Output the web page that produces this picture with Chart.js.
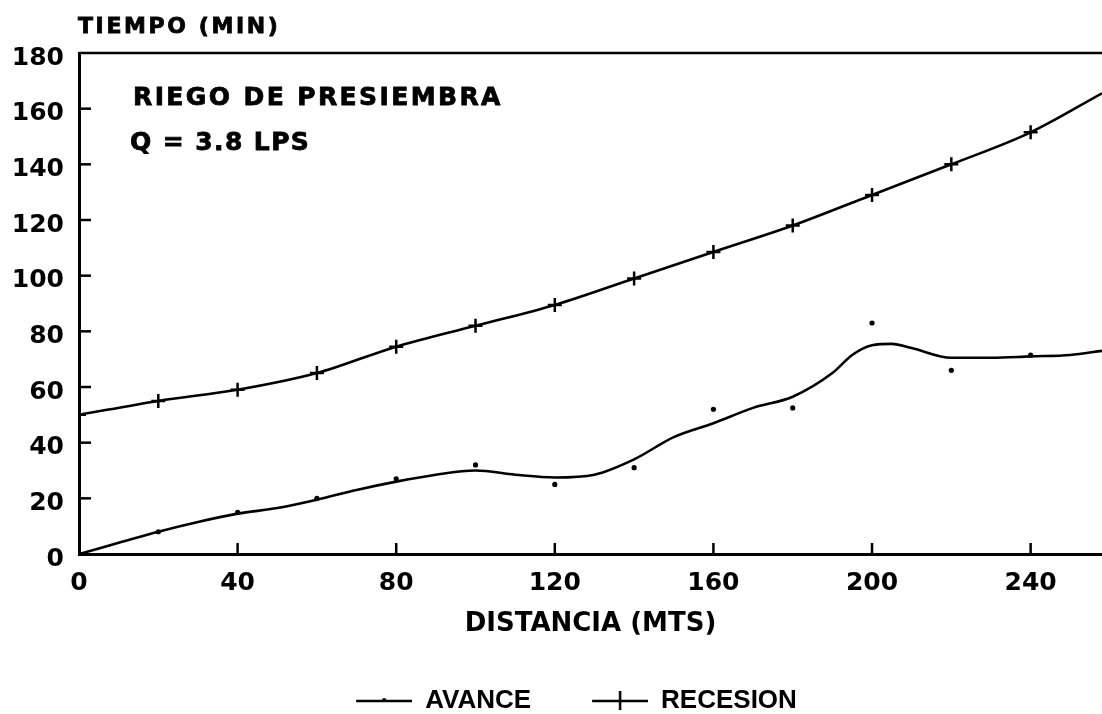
<!DOCTYPE html>
<html lang="es">
<head>
<meta charset="utf-8">
<title>Riego de presiembra - avance y recesión</title>
<script src="https://cdn.jsdelivr.net/npm/chart.js@4.4.1/dist/chart.umd.min.js"></script>
<style>
  html, body { margin: 0; padding: 0; background: #ffffff; }
  #grafico { display: block; }
</style>
</head>
<body>
<canvas id="grafico" width="1102" height="714"></canvas>
<script>
// Estaciones de medición a lo largo del surco (m)
const distancias = [0, 20, 40, 60, 80, 100, 120, 140, 160, 180, 200, 220, 240];
// Tiempo de avance observado en cada estación (min)
const avanceMedido = [0, 8, 15, 20, 27, 32, 25, 31, 52, 52.5, 83, 66, 71.5];
// Tiempo de recesión en cada estación (min)
const recesion = [50, 55, 59, 65, 74.5, 82, 89.5, 99, 108.5, 118, 129, 140, 151.5];
// Extremo del surco y su tiempo de recesión
const distanciaFinal = 258;
const recesionFinal = 165.5;

// Curva suavizada del avance
const distanciasAjuste = [0, 10, 20, 30, 40, 50, 60, 70, 80, 90, 100, 110, 120, 130,
  140, 150, 160, 170, 180, 190, 195, 200, 205, 210, 220, 230, 240, 250, 258];
const avanceAjuste = [0, 4, 8, 11.5, 14.5, 16.5, 19.5, 23, 26, 28.5, 30, 28.5, 27.5, 28.5,
  34, 42, 47, 52.5, 56.5, 65, 71.5, 75, 75.5, 74, 70.5, 70.5, 71, 71.5, 73];

// Divisiones de los ejes
const ticksY = [0, 20, 40, 60, 80, 100, 120, 140, 160, 180];
const ticksX = [0, 40, 80, 120, 160, 200, 240];

const NEGRO = '#000000';
const FUENTE = '"DejaVu Sans", "Liberation Sans", sans-serif';

// Símbolos de la leyenda: trazo con punto (avance) y trazo con cruz (recesión)
function simbolo(conCruz) {
  const c = document.createElement('canvas');
  c.width = 107; c.height = 24;
  const g = c.getContext('2d');
  g.strokeStyle = NEGRO; g.fillStyle = NEGRO; g.lineWidth = 2.5;
  g.beginPath(); g.moveTo(51, 12); g.lineTo(107, 12); g.stroke();
  if (conCruz) {
    g.beginPath(); g.moveTo(79, 2); g.lineTo(79, 21); g.stroke();
  } else {
    g.beginPath(); g.arc(79, 11, 2, 0, Math.PI * 2); g.fill();
  }
  return c;
}
const simboloAvance = simbolo(false);
const simboloRecesion = simbolo(true);

// Marcas interiores de los ejes, marco superior y rótulos del gráfico
const decoracion = {
  id: 'decoracion',
  afterDraw(chart) {
    const { ctx, chartArea: a, scales: { x, y } } = chart;
    ctx.save();
    ctx.strokeStyle = NEGRO;
    ctx.lineWidth = 2.5;
    ticksY.forEach(v => {
      if (v === 0 || v === 180) return;
      const py = y.getPixelForValue(v);
      ctx.beginPath(); ctx.moveTo(a.left, py); ctx.lineTo(a.left + 12, py); ctx.stroke();
    });
    ticksX.forEach(v => {
      if (v === 0) return;
      const px = x.getPixelForValue(v);
      ctx.beginPath(); ctx.moveTo(px, a.bottom); ctx.lineTo(px, a.bottom - 11); ctx.stroke();
    });
    ctx.beginPath(); ctx.moveTo(a.left, a.top); ctx.lineTo(a.right, a.top); ctx.stroke();

    ctx.fillStyle = NEGRO;
    ctx.strokeStyle = NEGRO;
    ctx.lineWidth = 0.8;
    ctx.textAlign = 'left';
    ctx.textBaseline = 'alphabetic';
    const rotulo = (texto, px, py) => { ctx.fillText(texto, px, py); ctx.strokeText(texto, px, py); };
    ctx.font = 'bold 22px ' + FUENTE;
    ctx.letterSpacing = '2.6px';
    rotulo('TIEMPO (MIN)', a.left - 1, 33);
    ctx.font = 'bold 25px ' + FUENTE;
    ctx.letterSpacing = '2.4px';
    rotulo('RIEGO DE PRESIEMBRA', a.left + 54, 105);
    ctx.letterSpacing = '1.4px';
    rotulo('Q = 3.8 LPS', a.left + 51, 150);
    ctx.restore();
  }
};

new Chart(document.getElementById('grafico'), {
  type: 'line',
  data: {
    datasets: [
      {
        label: 'AVANCE',
        data: distanciasAjuste.map((d, i) => ({ x: d, y: avanceAjuste[i] })),
        borderColor: NEGRO,
        borderWidth: 2.6,
        pointRadius: 0,
        cubicInterpolationMode: 'monotone',
        fill: false
      },
      {
        label: 'avance observado',
        data: distancias.map((d, i) => ({ x: d, y: avanceMedido[i] })),
        showLine: false,
        pointRadius: 2.6,
        pointStyle: 'circle',
        backgroundColor: NEGRO,
        borderColor: NEGRO,
        borderWidth: 0
      },
      {
        label: 'RECESION',
        data: distancias.map((d, i) => ({ x: d, y: recesion[i] }))
          .concat([{ x: distanciaFinal, y: recesionFinal }]),
        borderColor: NEGRO,
        borderWidth: 2.6,
        cubicInterpolationMode: 'monotone',
        pointStyle: 'cross',
        pointRadius: c => (c.dataIndex < distancias.length ? 7 : 0),
        pointBorderWidth: 2.5,
        pointBorderColor: NEGRO,
        fill: false
      }
    ]
  },
  options: {
    responsive: false,
    animation: false,
    devicePixelRatio: 1,
    layout: { autoPadding: false, padding: { top: 53, left: 0, right: 0, bottom: 0 } },
    plugins: {
      tooltip: { enabled: false },
      title: { display: false },
      legend: {
        display: true,
        position: 'bottom',
        maxHeight: 36,
        labels: {
          usePointStyle: true,
          pointStyleWidth: 107,
          padding: 10,
          color: NEGRO,
          font: { family: '"Liberation Sans", Arial, sans-serif', size: 26, weight: 'bold' },
          generateLabels: () => [
            { text: 'AVANCE', pointStyle: simboloAvance, datasetIndex: 0, fillStyle: NEGRO, strokeStyle: NEGRO, lineWidth: 0, fontColor: NEGRO, hidden: false },
            { text: 'RECESION', pointStyle: simboloRecesion, datasetIndex: 2, fillStyle: NEGRO, strokeStyle: NEGRO, lineWidth: 0, fontColor: NEGRO, hidden: false }
          ]
        }
      }
    },
    scales: {
      x: {
        type: 'linear',
        min: 0,
        max: distanciaFinal,
        afterBuildTicks: s => { s.ticks = ticksX.map(v => ({ value: v })); },
        afterFit: s => { s.height = 124; },
        grid: { display: false, drawTicks: false },
        border: { display: true, color: NEGRO, width: 3 },
        ticks: {
          color: NEGRO,
          padding: 14,
          maxRotation: 0,
          autoSkip: false,
          font: { family: FUENTE, size: 25, weight: 'bold' }
        },
        title: {
          display: true,
          text: 'DISTANCIA (MTS)',
          color: NEGRO,
          padding: { top: 0, bottom: 38 },
          font: { family: FUENTE, size: 26, weight: 'bold' }
        }
      },
      y: {
        type: 'linear',
        min: 0,
        max: 180,
        afterBuildTicks: s => { s.ticks = ticksY.map(v => ({ value: v })); },
        afterFit: s => { s.width = 79; },
        grid: { display: false, drawTicks: false },
        border: { display: true, color: NEGRO, width: 3 },
        ticks: {
          color: NEGRO,
          padding: 15,
          labelOffset: 5,
          autoSkip: false,
          font: { family: FUENTE, size: 25, weight: 'bold' }
        }
      }
    }
  },
  plugins: [decoracion]
});
</script>
</body>
</html>
